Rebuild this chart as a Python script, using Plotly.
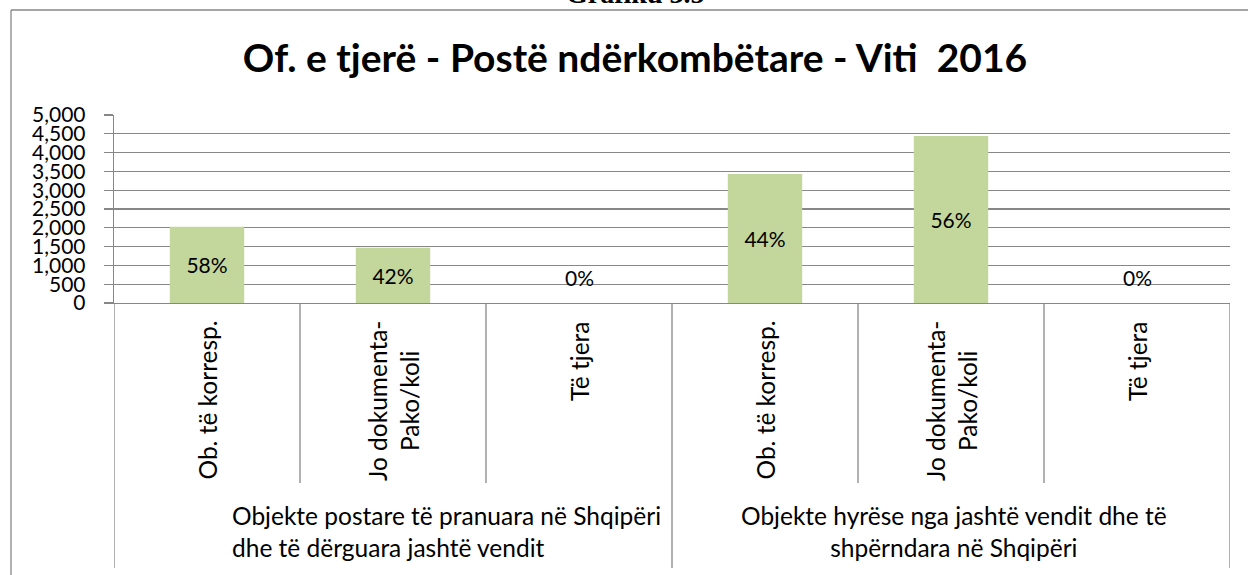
import plotly.graph_objects as go

# ---- data ----
categories = ["Ob. të korresp.", "Jo dokumenta-<br>Pako/koli", "Të tjera",
              "Ob. të korresp.", "Jo dokumenta-<br>Pako/koli", "Të tjera"]
values = [2030, 1470, 0, 3430, 4440, 0]
pct_labels = ["58%", "42%", "0%", "44%", "56%", "0%"]
groups = ["Objekte postare të pranuara në Shqipëri<br>dhe të dërguara jashtë vendit",
          "Objekte hyrëse nga jashtë vendit dhe të<br>shpërndara në Shqipëri"]
group_members = [[0, 1, 2], [3, 4, 5]]
y_ticks = list(range(0, 5001, 500))
title_text = "Of. e tjerë - Postë ndërkombëtare - Viti  2016"
header_text = "Grafiku 3.5"

FONT = "Lato"
GRID = "#878787"
BAR = "#C3D69B"

xs = list(range(len(values)))
inside_text = [t if v > 0 else "" for t, v in zip(pct_labels, values)]

fig = go.Figure()
fig.add_trace(go.Bar(
    x=xs, y=values, width=0.4, marker=dict(color=BAR, line=dict(width=0)),
    text=inside_text, textposition="inside", insidetextanchor="middle",
    textangle=0, constraintext="none",
    textfont=dict(family=FONT, size=21, color="black"),
    hoverinfo="skip",
))

annotations = []
# zero-value labels
for x, v, t in zip(xs, values, pct_labels):
    if v == 0:
        annotations.append(dict(x=x, y=0, xref="x", yref="y", text=t, showarrow=False,
                                yanchor="middle", yshift=26,
                                font=dict(family=FONT, size=21, color="black")))
# inner category labels (rotated)
for x, c in zip(xs, categories):
    annotations.append(dict(x=x, y=0, xref="x", yref="paper", text=c, showarrow=False,
                            textangle=-90, xanchor="center", yanchor="top", yshift=-16,
                            align="center",
                            font=dict(family=FONT, size=24.5, color="black")))
# group labels
for gi, (g, mem) in enumerate(zip(groups, group_members)):
    cx = sum(mem) / len(mem)
    annotations.append(dict(x=cx, y=0, xref="x", yref="paper", text=g, showarrow=False,
                            xanchor="center", yanchor="top", yshift=-196,
                            xshift=(53 if gi == 0 else 3),
                            align=("left" if gi == 0 else "center"),
                            font=dict(family=FONT, size=24.5, color="black")))
# header (cut off at top)
annotations.append(dict(x=(635 - 114) / 1116, y=1, xref="paper", yref="paper",
                        text="<b>" + header_text + "</b>",
                        showarrow=False, xanchor="center", yanchor="bottom", yshift=104,
                        font=dict(family="Liberation Serif", size=28, color="black")))

shapes = []
# dividers between categories (short) and groups (long)
boundaries = [i - 0.5 for i in range(len(values) + 1)]
group_edges = {min(m) - 0.5 for m in group_members} | {max(m) + 0.5 for m in group_members}
for b in boundaries:
    long = b in group_edges
    shapes.append(dict(type="line", xref="x", yref="paper", x0=b, x1=b, y0=0,
                       y1=(-265 / 188 if long else -180 / 188),
                       line=dict(color=GRID, width=1.3)))
# outer chart frame (left and top edges)
shapes.append(dict(type="line", xref="paper", yref="paper",
                   x0=(11 - 114) / 1116, x1=(11 - 114) / 1116, y0=(303 - 10) / 188, y1=(303 - 600) / 188,
                   line=dict(color=GRID, width=1.3)))
shapes.append(dict(type="line", xref="paper", yref="paper",
                   x0=(11 - 114) / 1116, x1=(1260 - 114) / 1116, y0=(303 - 10) / 188, y1=(303 - 10) / 188,
                   line=dict(color=GRID, width=1.3)))

fig.update_layout(
    width=1248, height=575,
    margin=dict(l=114, r=18, t=115, b=272, pad=0),
    paper_bgcolor="white", plot_bgcolor="white",
    showlegend=False,
    title=dict(text="<b>" + title_text + "</b>", xref="container", yref="container",
               x=635 / 1248, y=1 - 58 / 575, xanchor="center", yanchor="middle",
               font=dict(family=FONT, size=39, color="black")),
    xaxis=dict(range=[-0.5, 5.5], showticklabels=False, ticks="", showgrid=False,
               zeroline=False, showline=True, linecolor=GRID, linewidth=1.3, fixedrange=True),
    yaxis=dict(range=[0, 5000], tickvals=y_ticks, tickformat=",", showgrid=True,
               gridcolor=GRID, gridwidth=1.3, zeroline=False, showline=True, linecolor=GRID,
               linewidth=1.3, ticks="outside", ticklen=9, tickcolor=GRID, tickwidth=1.3,
               ticklabelstandoff=14,
               tickfont=dict(family=FONT, size=21, color="black"), fixedrange=True),
    annotations=annotations,
    shapes=shapes,
)

fig.write_html("out.html", config={"displayModeBar": False, "staticPlot": True},
               post_script="document.body.style.margin='0';document.body.style.overflow='hidden';")
